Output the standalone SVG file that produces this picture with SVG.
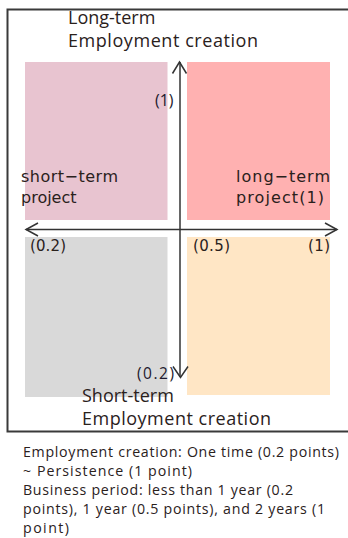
<svg xmlns="http://www.w3.org/2000/svg" width="348" height="538" viewBox="0 0 348 538">
  <style>
    .frame { fill: none; stroke: #3a3a3a; stroke-width: 2; }
    .axis { fill: none; stroke: #333; stroke-width: 1.5; }
    .head { font-family: "Open Sans", "Noto Sans", sans-serif; font-size: 18px; fill: #2a211c; }
    .quad { font-family: "DejaVu Sans", "Noto Sans", sans-serif; font-size: 16px; fill: #2a211c; }
    .tick { font-family: "DejaVu Sans", "Noto Sans", sans-serif; font-size: 15px; fill: #2a211c; }
    .vtick { font-family: "Open Sans", "Noto Sans", sans-serif; font-size: 16px; fill: #1e1a2e; }
    .note { font-family: "Open Sans", "Noto Sans", sans-serif; font-size: 14.2px; fill: #2a211c; }
  </style>

  <rect width="348" height="538" fill="#ffffff"/>

  <!-- outer frame (right side runs off the canvas) -->
  <path class="frame" d="M352 9.5 H7.5 V431.5 H352"/>

  <!-- quadrants -->
  <g id="q-short-long">
    <rect x="25" y="62" width="142.5" height="158" fill="#E8C4D0"/>
    <text class="quad" x="21" y="182" textLength="97">short−term</text>
    <text class="quad" x="21" y="203">project</text>
  </g>
  <g id="q-long-long">
    <rect x="187" y="62" width="143" height="158" fill="#FFB1B1"/>
    <text class="quad" x="236" y="182" textLength="94">long−term</text>
    <text class="quad" x="236" y="203" textLength="88">project(1)</text>
  </g>
  <g id="q-short-short">
    <rect x="25" y="237" width="142.5" height="160" fill="#D9D9D9"/>
  </g>
  <g id="q-long-short">
    <rect x="187" y="237" width="143" height="158" fill="#FFE6C5"/>
  </g>

  <!-- axes -->
  <g id="connectors">
    <line class="axis" x1="180" y1="62" x2="180" y2="377"/>
    <path class="axis" d="M172.5 73.5 L179.5 62 L186.5 73.5"/>
    <path class="axis" d="M173 366.5 L180.5 377.5 L188 366.5"/>
    <line class="axis" x1="26" y1="229.5" x2="337" y2="229.5"/>
    <path class="axis" d="M38 223 L26 229.5 L38 236"/>
    <path class="axis" d="M325 223 L337 229.5 L325 236"/>
  </g>

  <!-- axis titles -->
  <g id="y-top">
    <text class="head" x="68" y="24">Long-term</text>
    <text class="head" x="68" y="47" textLength="190">Employment creation</text>
  </g>
  <g id="y-bottom">
    <text class="head" x="82" y="402">Short-term</text>
    <text class="head" x="82" y="424.5" textLength="189">Employment creation</text>
  </g>

  <!-- scale marks -->
  <g id="ticks">
    <text class="vtick" x="155" y="105.5">(1)</text>
    <text class="vtick" x="137" y="379" style="font-size:15.5px" textLength="37">(0.2)</text>
    <text class="tick" x="30" y="251" textLength="36">(0.2)</text>
    <text class="tick" x="193" y="251" textLength="37">(0.5)</text>
    <text class="tick" x="308" y="251" textLength="22">(1)</text>
  </g>

  <!-- legend -->
  <g id="note">
    <text class="note" x="23" y="457" textLength="316">Employment creation: One time (0.2 points)</text>
    <text class="note" x="23" y="476" textLength="169">~ Persistence (1 point)</text>
    <text class="note" x="23" y="495" textLength="270">Business period: less than 1 year (0.2</text>
    <text class="note" x="23" y="514" textLength="302">points), 1 year (0.5 points), and 2 years (1</text>
    <text class="note" x="23" y="533" textLength="46">point)</text>
  </g>
</svg>
